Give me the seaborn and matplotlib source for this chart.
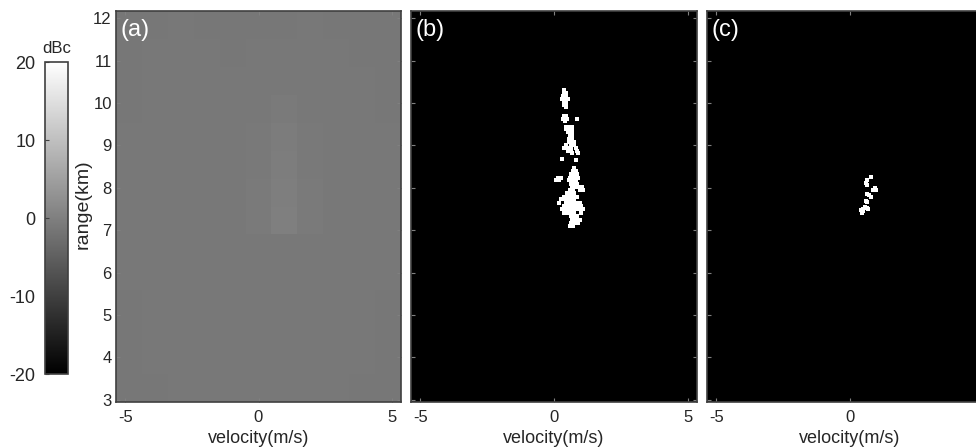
"""
Range-velocity maps: (a) raw spectrum in dBc, (b) and (c) detected cells in white.
Panel (a) uses local mean levels read by eye, the pixel speckle is not reproduced.
"""

import pandas as pd
import matplotlib
matplotlib.use('Agg')
import matplotlib.pyplot as plt
import seaborn as sns

# panel (a): mean dBc level, rows run from the top of the axes (12 km) down to 3 km
spectrum_levels = [
    [-1.4, -1.3, -1.2, -1.3, -1.4, -1.3, -1.3, -1.2, -1.3, -1.4, -1.4],
    [-1.3, -1.2, -1.2, -1.2, -1.3, -1.2, -1.2, -1.2, -1.2, -1.3, -1.4],
    [-1.3, -1.2, -1.2, -1.2, -1.2, -1.2, -1.1, -1.2, -1.2, -1.2, -1.3],
    [-1.3, -1.2, -1.2, -1.2, -1.2, -1.1, -0.8, -1.1, -1.2, -1.2, -1.3],
    [-1.2, -1.2, -1.2, -1.2, -1.2, -1.0, -0.6, -1.0, -1.2, -1.2, -1.2],
    [-1.2, -1.2, -1.2, -1.2, -1.2, -1.0, -0.4, -1.0, -1.2, -1.2, -1.2],
    [-1.2, -1.2, -1.2, -1.2, -1.2, -0.9, -0.2, -0.9, -1.2, -1.2, -1.2],
    [-1.2, -1.2, -1.2, -1.2, -1.2, -0.9, -0.1, -0.9, -1.2, -1.2, -1.2],
    [-1.2, -1.2, -1.2, -1.2, -1.2, -1.2, -1.1, -1.2, -1.2, -1.2, -1.2],
    [-1.2, -1.2, -1.2, -1.2, -1.2, -1.2, -1.2, -1.2, -1.2, -1.2, -1.2],
    [-1.3, -1.2, -1.2, -1.2, -1.2, -1.2, -1.2, -1.2, -1.2, -1.2, -1.3],
    [-1.3, -1.2, -1.2, -1.2, -1.2, -1.2, -1.2, -1.2, -1.2, -1.2, -1.3],
    [-1.3, -1.2, -1.2, -1.2, -1.2, -1.2, -1.2, -1.2, -1.2, -1.2, -1.3],
    [-1.4, -1.3, -1.2, -1.2, -1.2, -1.2, -1.2, -1.2, -1.2, -1.3, -1.4],
]

# panel (b): white cells, one velocity list per range row
b_ranges = [10.30, 10.24, 10.16, 10.10, 10.02, 9.95, 9.90, 9.69, 9.63, 9.58, 9.44,
            9.38, 9.31, 9.24, 9.16, 9.09, 9.01, 8.94, 8.87, 8.81, 8.69, 8.65, 8.46,
            8.40, 8.32, 8.24, 8.18, 8.10, 8.02, 7.95, 7.87, 7.79, 7.73, 7.65, 7.57,
            7.49, 7.41, 7.33, 7.25, 7.17, 7.10]
b_velocities = [
    [.37], [.37, .44], [.34, .44], [.31, .42, .51], [.37, .46], [.37, .46], [.44],
    [.37, .46], [.34, .44, .50, .86], [.42], [.46, .59, .69], [.44, .56, .69],
    [.54, .66], [.59, .69], [.56, .69], [.56, .66, .75], [.44, .62, .75],
    [.37, .50, .62, .81], [.54, .64, .85], [.69, .90], [.29], [.81], [.75],
    [.71, .81], [.62, .75, .87], [.16, .25, .59, .69, .79, .91],
    [.09, .19, .56, .69, .81], [.62, .75, .87], [.69, .81, .96, 1.06],
    [.59, .71, .96, 1.09], [.50, .62, .75], [.37, .50, .62, .75, .87],
    [.25, .37, .50, .62, .75], [.19, .44, .56, .69, .81, .96],
    [.37, .50, .62, .75, .87, 1.00], [.31, .44, .56, .69, .81, .94, 1.09],
    [.37, .50, .62, .75, 1.00], [.62, .75, .87], [.69, .81, .96],
    [.62, .75, .91], [.59, .71],
]

# panel (c): white cells
c_ranges = [8.25, 8.18, 8.12, 8.07, 8.00, 7.96, 7.96, 7.86, 7.82, 7.78, 7.70, 7.66,
            7.55, 7.52, 7.51, 7.51, 7.47, 7.45, 7.41]
c_velocity = [.77, .62, .60, .65, .94, .87, .97, .65, .72, .77, .60, .65,
              .56, .65, .47, .69, .40, .50, .44]

velocity_ticks = [-5, 0, 5]
range_ticks = [3, 4, 5, 6, 7, 8, 9, 10, 11, 12]
cbar_ticks = [-20, -10, 0, 10, 20]

V_MIN, V_MAX = -5.35, 5.35
R_MIN, R_MAX = 2.95, 12.17
W, H = 976, 448
TEXT = '#262626'
FRAME = '#404040'

plt.rcParams['font.family'] = ['Liberation Sans', 'DejaVu Sans']
plt.rcParams['font.size'] = 12


def add_axes_px(fig, left, top, right, bottom):
    return fig.add_axes([left / W, 1 - bottom / H, (right - left) / W, (bottom - top) / H])


def style_panel(ax, letter, color='white'):
    for spine in ax.spines.values():
        spine.set_visible(True)
        spine.set_color(FRAME)
        spine.set_linewidth(1.2)
    ax.tick_params(axis='both', direction='in', length=3, width=0.8, color='#808080',
                   labelcolor=TEXT, top=True, right=True, pad=6)
    ax.set_xlabel('velocity(m/s)', color=TEXT, fontsize=13)
    ax.xaxis.set_label_coords(0.5, -0.072)
    ax.xaxis.label.set_verticalalignment('top')
    ax.text(0.017, 0.98, letter, transform=ax.transAxes, color=color, fontsize=17,
            ha='left', va='top')


def draw_cells(ax, velocity, ranges, tick_labels):
    cells = pd.DataFrame({'velocity': velocity, 'range': ranges})
    ax.set_facecolor('black')
    sns.scatterplot(data=cells, x='velocity', y='range', ax=ax, color='white',
                    marker='s', s=10, linewidth=0, legend=False)
    ax.set_xlim(V_MIN, V_MAX)
    ax.set_ylim(R_MIN, R_MAX)
    ax.set_xticks(velocity_ticks)
    ax.set_xticklabels(tick_labels)
    ax.set_yticks(range_ticks)
    ax.set_yticklabels([])
    ax.set_ylabel('')


fig = plt.figure(figsize=(W / 100, H / 100), dpi=100)
cax = add_axes_px(fig, 45, 62, 68, 374)
ax_a = add_axes_px(fig, 116, 11, 401, 402)
ax_b = add_axes_px(fig, 411, 11, 697, 402)
ax_c = add_axes_px(fig, 707, 11, 993, 402)

# (a) + colorbar
n_rows, n_cols = len(spectrum_levels), len(spectrum_levels[0])
sns.heatmap(pd.DataFrame(spectrum_levels), ax=ax_a, cbar_ax=cax, cmap='gray', vmin=-20, vmax=20,
            xticklabels=False, yticklabels=False, linewidths=0, rasterized=True)
ax_a.set_xlim(0, n_cols)
ax_a.set_ylim(n_rows, 0)
ax_a.set_xticks([(v - V_MIN) / (V_MAX - V_MIN) * n_cols for v in velocity_ticks])
ax_a.set_xticklabels(velocity_ticks, rotation=0)
ax_a.set_yticks([(R_MAX - r) / (R_MAX - R_MIN) * n_rows for r in range_ticks])
ax_a.set_yticklabels(range_ticks, rotation=0)
style_panel(ax_a, '(a)')
ax_a.tick_params(axis='y', pad=3)
ax_a.set_ylabel('range(km)', color=TEXT, fontsize=14)
ax_a.yaxis.set_label_coords(-0.084, 0.505)

cbar = ax_a.collections[0].colorbar
cbar.set_ticks(cbar_ticks)
cbar.set_ticklabels([str(t) for t in cbar_ticks])
cbar.outline.set_visible(True)
cbar.outline.set_edgecolor(FRAME)
cbar.outline.set_linewidth(1.2)
cax.yaxis.tick_left()
cax.tick_params(axis='y', direction='in', length=3, width=0.8, color='#404040',
                labelcolor=TEXT, labelsize=13, pad=7)
cax.text(0.5, 1.02, 'dBc', transform=cax.transAxes, color=TEXT, fontsize=12,
         ha='center', va='bottom')

# (b)
b_table = pd.DataFrame({'range': b_ranges, 'velocity': b_velocities}).explode('velocity')
draw_cells(ax_b, b_table['velocity'].astype(float).values, b_table['range'].values, velocity_ticks)
style_panel(ax_b, '(b)')

# (c): the 5 tick falls past the right edge of the picture
draw_cells(ax_c, c_velocity, c_ranges, ['-5', '0', ''])
style_panel(ax_c, '(c)')

fig.savefig('out.png', dpi=100)
